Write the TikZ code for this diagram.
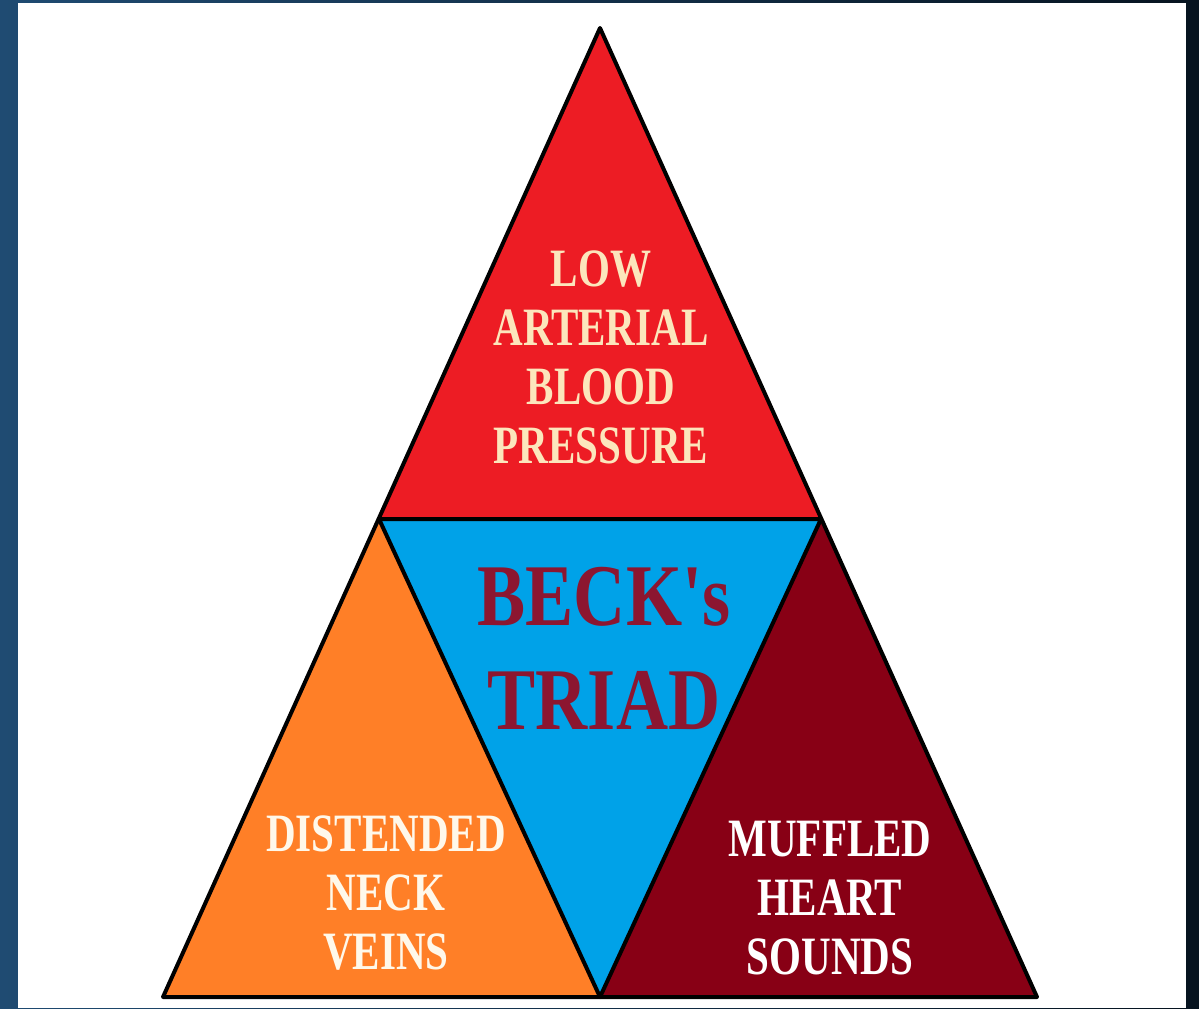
\documentclass[tikz,border=0pt]{standalone}
\usepackage{fontspec}
\newfontfamily\condserif{Liberation Serif Bold}[FakeStretch=0.76]
\newfontfamily\widecondserif{Liberation Serif Bold}[FakeStretch=0.82]
\definecolor{bgleft}{HTML}{1F4B72}
\definecolor{bgright}{HTML}{06131F}
\definecolor{topred}{HTML}{ED1C24}
\definecolor{midblue}{HTML}{00A2E8}
\definecolor{leftorange}{HTML}{FF7F27}
\definecolor{rightmaroon}{HTML}{880015}
\definecolor{creamtext}{HTML}{FCE6BC}
\definecolor{palecream}{HTML}{FFF8EA}
\definecolor{becktext}{HTML}{8C1630}
\tikzset{
  piece/.style={line width=2pt, line join=round},
  labeltext/.style={inner sep=0pt, align=center, anchor=center,
    font=\condserif\fontsize{27}{29.5}\selectfont},
  titletext/.style={inner sep=0pt, align=center, anchor=center,
    font=\widecondserif\fontsize{44}{52}\selectfont}
}
\begin{document}
\begin{tikzpicture}[x=0.5pt,y=-0.5pt]
\useasboundingbox (0,0) rectangle (1199,1008);
% background
\shade[left color=bgleft, right color=bgright] (0,0) rectangle (1199,1008);
\fill[white] (18,3) rectangle (1186,1008);
% vertices
\coordinate (apex) at (600,28);
\coordinate (bl) at (163,997);
\coordinate (br) at (1037,997);
\coordinate (ml) at (379,519);
\coordinate (mr) at (821,519);
\coordinate (mb) at (600,997);
% pieces
\fill[topred] (apex) -- (mr) -- (ml) -- cycle;
\fill[midblue] (ml) -- (mr) -- (mb) -- cycle;
\fill[leftorange] (ml) -- (mb) -- (bl) -- cycle;
\fill[rightmaroon] (mr) -- (br) -- (mb) -- cycle;
\draw[piece] (apex) -- (br) -- (bl) -- cycle;
\draw[piece] (ml) -- (mr) -- (mb) -- cycle;
% labels
\node[labeltext, text=creamtext] (low) at (601,357)
  {LOW\\ARTERIAL\\BLOOD\\PRESSURE};
\node[titletext, text=becktext] (beck) at (604,648)
  {BECK's\\TRIAD};
\node[labeltext, text=palecream] (neck) at (386,893)
  {DISTENDED\\NECK\\VEINS};
\node[labeltext, text=white] (heart) at (830,898)
  {MUFFLED\\HEART\\SOUNDS};
\end{tikzpicture}
\end{document}
